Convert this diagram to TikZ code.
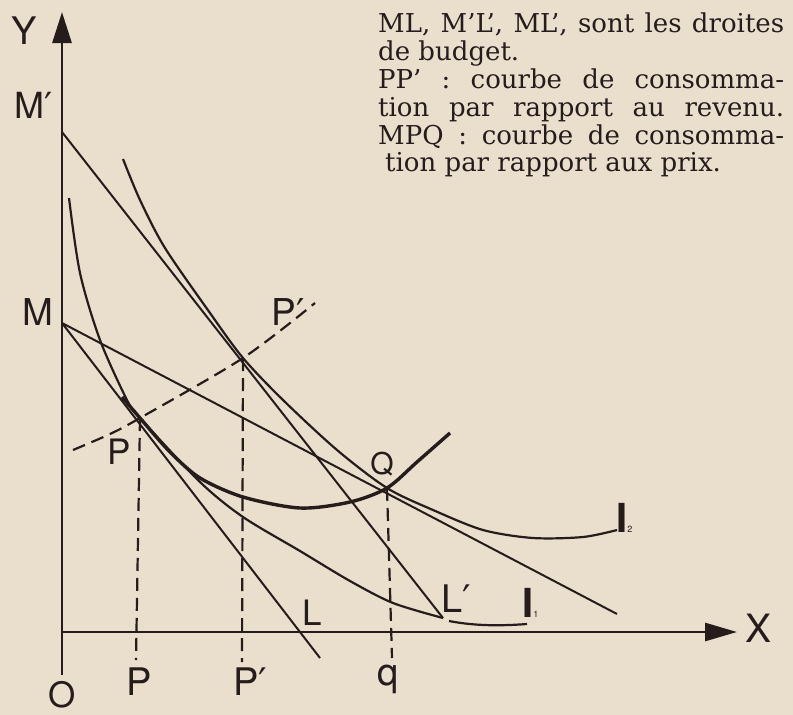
\documentclass[tikz,border=0pt]{standalone}
\usepackage{fontspec}
\setmainfont{DejaVu Serif}
\newfontfamily\labfont{TeX Gyre Heros}
\newfontfamily\primefont{DejaVu Sans}
\usetikzlibrary{arrows.meta}
\definecolor{paper}{RGB}{234,223,204}
\definecolor{ink}{RGB}{38,28,28}
\newcommand{\pr}{{\primefont ′}}
\tikzset{
  lab/.style={font=\labfont\fontsize{#1}{#1}\selectfont,inner sep=0pt,text=ink},
  lab/.default=37,
  budget/.style={ink,line width=2pt},
  indiff/.style={ink,line width=2.2pt},
  consom/.style={ink,line width=3.4pt},
  proj/.style={ink,line width=2.2pt,dash pattern=on 13pt off 7pt},
}
\begin{document}
\begin{tikzpicture}[x=1pt,y=-1pt]
\fill[paper] (0,0) rectangle (793,715);
\coordinate (O) at (62,632); \coordinate (Ybot) at (62,675); \coordinate (Ytop) at (62,12); \coordinate (Xend) at (737,632);
\coordinate (M) at (62,323); \coordinate (Mp) at (62,132);
\coordinate (Lend) at (320,658); \coordinate (Lp) at (443,618); \coordinate (MLpend) at (617,614);
\coordinate (P) at (140,418); \coordinate (Ppp) at (243,358); \coordinate (Q) at (387,488);
\coordinate (Pb) at (136,660); \coordinate (Ppb) at (242,662); \coordinate (qb) at (392,658);
\draw[ink,line width=2.8pt,-{Triangle[length=31pt,width=19pt]}] (Ybot) -- (Ytop);
\draw[ink,line width=2.8pt,-{Triangle[length=32pt,width=18pt]}] (O) -- (Xend);
\draw[budget] (M) -- (Lend);
\draw[budget] (Mp) -- (Lp);
\draw[budget] (M) -- (MLpend);
\draw[indiff] plot[smooth,tension=0.5] coordinates {(69,198) (80,273) (100,340) (127,400) (P) (200,482) (243,517) (300,551) (350,581) (393,603) (Lp)};
\draw[indiff] (449,621) .. controls (475,626) and (500,626) .. (527,624);
\draw[indiff] plot[smooth,tension=0.5] coordinates {(123,159) (140,200) (165,248) (210,313) (Ppp) (283,400) (337,450) (Q) (433,510) (483,530) (533,538) (583,537) (617,530)};
\draw[consom] plot[smooth,tension=0.5] coordinates {(122,397) (P) (170,452) (200,478) (243,497) (300,508) (350,502) (Q) (417,462) (450,433)};
\draw[proj] plot[smooth,tension=0.5] coordinates {(73,450) (110,434) (P) (Ppp) (315,303)};
\foreach \a/\b in {P/Pb,Ppp/Ppb,Q/qb}{\draw[proj] (\a) -- (\b);}
\node[lab=38] (Ylab) at (24,31) {Y};
\node[lab=36] (Mplab) at (34,105) {M\pr};
\node[lab] (Mlab) at (38,312) {M};
\node[lab=35] (Olab) at (62,695) {O};
\node[lab=38] (Pxlab) at (139,682) {P};
\node[lab=38] (Ppxlab) at (250,682) {P\pr};
\node[lab=38] (qlab) at (388,679) {q};
\node[lab=35] (Llab) at (312,613) {L};
\node[lab=38] (Lplab) at (456,599) {L\pr};
\node[lab=39] (Xlab) at (758,628) {X};
\node[lab=30] (Qlab) at (382,464) {Q};
\node[lab=35] (Plab) at (119,452) {P};
\node[lab=37] (Pplab) at (288,312) {P\pr};
\node[lab=40,anchor=base west] (Ionelab) at (522,617) {\bfseries I{\mdseries\fontsize{9}{9}\selectfont 1}};
\node[lab=40,anchor=base west] (Itwolab) at (616,532) {\bfseries I{\mdseries\fontsize{9}{9}\selectfont 2}};
\node[anchor=north west,inner sep=0pt,text=ink,font=\fontsize{26}{27.8}\selectfont,align=left] (legend) at (378,13)
  {\makebox[406pt][s]{ML, M’L’, ML’, sont les droites}\\de budget.\\\makebox[406pt][s]{PP’ : courbe de consomma-}\\\makebox[406pt][s]{tion par rapport au revenu.}\\\makebox[406pt][s]{MPQ : courbe de consomma-}\\\hspace*{7pt}tion par rapport aux prix.};
\end{tikzpicture}
\end{document}
